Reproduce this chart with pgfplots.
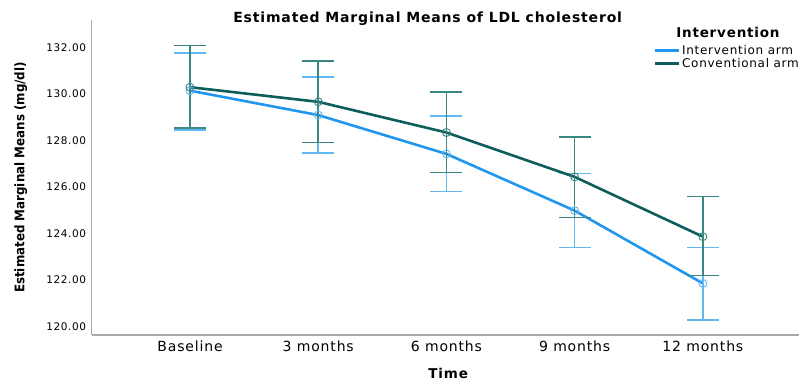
\documentclass[border=0pt]{standalone}
\usepackage{fontspec}
\setmainfont{DejaVu Sans}[LetterSpace=6]
\newfontfamily\condb{DejaVu Sans Condensed}
\usepackage{pgfplots}
\pgfplotsset{compat=1.18}
\definecolor{bluel}{HTML}{2196EE}
\definecolor{bluee}{HTML}{62B8F0}
\definecolor{greenl}{HTML}{0D5E5A}
\definecolor{greene}{HTML}{3A8783}
\definecolor{axgray}{HTML}{A8A8A8}
\begin{document}
\begin{tikzpicture}
\path[use as bounding box] (-91.7bp,-45bp) rectangle (707.3bp,335bp);
\begin{axis}[
  at={(0,0)}, anchor=south west,
  scale only axis, width=707.3bp, height=315bp,
  xmin=-0.767, xmax=4.75, ymin=119.64, ymax=133.19,
  axis x line*=bottom, axis y line*=left,
  axis line style={draw=axgray, line width=1.4bp, -},
  xtick={0,1,2,3,4},
  xticklabels={Baseline,3 months,6 months,9 months,12 months},
  ytick={120,122,124,126,128,130,132},
  yticklabel={\pgfmathprintnumber[fixed,fixed zerofill,precision=2]{\tick}},
  /pgf/number format/assume math mode=true,
  major tick length=0pt,
  tick style={draw=none},
  xticklabel style={font=\fontsize{14bp}{16bp}\selectfont, yshift=-2bp},
  yticklabel style={font=\fontsize{10.5bp}{12bp}\selectfont, xshift=-2bp},
  xlabel={\bfseries Time},
  xlabel style={font=\fontsize{13.5bp}{15bp}\selectfont, at={(rel axis cs:0.504,0)}, anchor=center, yshift=-38bp},
  ylabel={\condb\bfseries Estimated Marginal Means (mg/dl)},
  ylabel style={font=\fontsize{13.2bp}{15bp}\selectfont, at={(rel axis cs:0,0.5)}, anchor=center, yshift=71bp},
  title={\bfseries Estimated Marginal Means of LDL cholesterol},
  title style={font=\fontsize{14bp}{16bp}\selectfont, at={(rel axis cs:0.475,1)}, anchor=center, yshift=-5bp},
  legend style={at={(rel axis cs:0.794,1)}, anchor=north west, yshift=-23bp,
    draw=none, fill=none, inner sep=0pt, row sep=-1.5bp,
    font=\fontsize{12bp}{13bp}\selectfont, cells={anchor=west}},
  legend image code/.code={\draw[#1] (0bp,0bp) -- (24bp,0bp);},
  clip=false,
]
\addplot[color=bluel, line width=2.6bp, mark=o, mark size=4bp,
  mark options={color=bluee, line width=0.9bp},
  error bars/.cd, y dir=both, y explicit,
  error bar style={color=bluee, line width=1.5bp},
  error mark options={rotate=90, mark size=16bp, line width=1.5bp, color=bluee}]
  coordinates {
  (0,130.15) += (0,1.63) -= (0,1.69)
  (1,129.10) += (0,1.64) -= (0,1.64)
  (2,127.43) += (0,1.62) -= (0,1.62)
  (3,124.99) += (0,1.60) -= (0,1.59)
  (4,121.86) += (0,1.54) -= (0,1.57)
  };
\addlegendentry{Intervention arm}
\addplot[color=greenl, line width=2.6bp, mark=o, mark size=4bp,
  mark options={color=greene, line width=0.9bp},
  error bars/.cd, y dir=both, y explicit,
  error bar style={color=greene, line width=1.5bp},
  error mark options={rotate=90, mark size=16bp, line width=1.5bp, color=greene}]
  coordinates {
  (0,130.30) += (0,1.79) -= (0,1.75)
  (1,129.67) += (0,1.76) -= (0,1.76)
  (2,128.35) += (0,1.75) -= (0,1.73)
  (3,126.44) += (0,1.71) -= (0,1.75)
  (4,123.87) += (0,1.72) -= (0,1.67)
  };
\addlegendentry{Conventional arm}
\node[font=\fontsize{13.5bp}{15bp}\selectfont\bfseries, anchor=center] at (rel axis cs:0.8995,1) [yshift=-12bp] {Intervention};
\end{axis}
\end{tikzpicture}
\end{document}
